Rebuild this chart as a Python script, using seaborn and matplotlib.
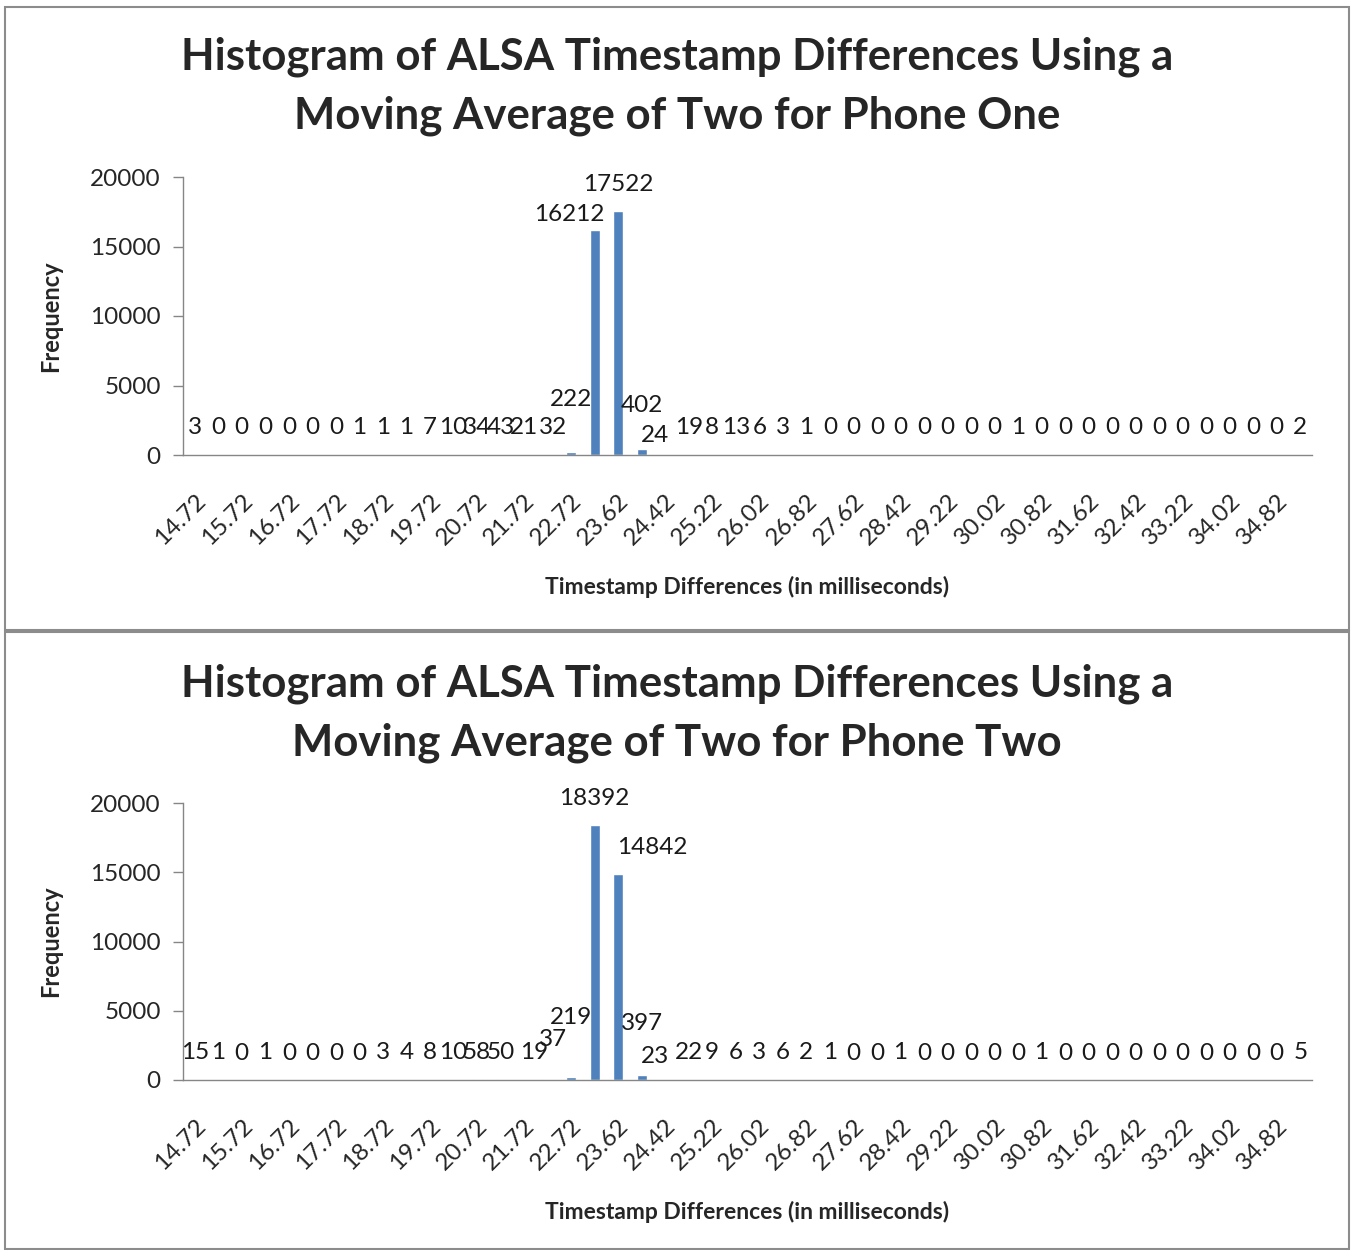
import numpy as np
import pandas as pd
import matplotlib.pyplot as plt
import seaborn as sns
from matplotlib.patches import Rectangle

# bins (48 categories), only every other one is labelled on the axis
n_bins = 48
tick_labels = ['14.72', '15.72', '16.72', '17.72', '18.72', '19.72', '20.72',
               '21.72', '22.72', '23.62', '24.42', '25.22', '26.02', '26.82',
               '27.62', '28.42', '29.22', '30.02', '30.82', '31.62', '32.42',
               '33.22', '34.02', '34.82']

phone_one = [3, 0, 0, 0, 0, 0, 0, 1, 1, 1,
             7, 10, 34, 43, 21, 32, 222, 16212, 17522, 402,
             24, 19, 8, 13, 6, 3, 1, 0, 0, 0,
             0, 0, 0, 0, 0, 1, 0, 0, 0, 0,
             0, 0, 0, 0, 0, 0, 0, 2]

phone_two = [15, 1, 0, 1, 0, 0, 0, 0, 3, 4,
             8, 10, 58, 50, 19, 37, 219, 18392, 14842, 397,
             23, 22, 9, 6, 3, 6, 2, 1, 0, 0,
             1, 0, 0, 0, 0, 0, 1, 0, 0, 0,
             0, 0, 0, 0, 0, 0, 0, 5]

titles = ['Histogram of ALSA Timestamp Differences Using a\nMoving Average of Two for Phone One',
          'Histogram of ALSA Timestamp Differences Using a\nMoving Average of Two for Phone Two']

# hand-moved data labels (pixel nudges, as in the original sheet)
nudge_one = {15: (5, 0), 16: (0, 25), 17: (-25, -12), 19: (0, 17), 20: (-10, -8)}
nudge_two = {14: (10, 0), 15: (5, 13), 16: (0, 32), 18: (34, 0), 19: (0, 24), 20: (-10, -4)}

sns.set_style('white')
plt.rcParams['font.family'] = ['Lato', 'DejaVu Sans']

BLUE = '#4F81BD'
GRAY = '#868686'
W, H = 1351, 1250
FS = 17.5

fig = plt.figure(figsize=(W / 100, H / 100), dpi=100)

# panel frames
for y0, y1 in [(7, 630), (632, 1249)]:
    fig.patches.append(Rectangle((5 / W, 1 - y1 / H), 1344 / W, (y1 - y0) / H,
                                 transform=fig.transFigure, fill=False,
                                 edgecolor='#8c8c8c', lw=1.5))


def draw(ax, counts, nudges):
    df = pd.DataFrame({'bin': np.arange(n_bins), 'count': counts})
    sns.barplot(data=df, x='bin', y='count', ax=ax, color=BLUE,
                saturation=1, width=0.42, errorbar=None)
    ax.set_xlim(-0.5, n_bins - 0.5)
    ax.set_ylim(0, 20000)
    ax.set_yticks(range(0, 20001, 5000))
    ax.set_yticklabels([str(v) for v in range(0, 20001, 5000)], fontsize=FS)
    ax.set_xticks(np.arange(0, n_bins, 2))
    ax.set_xticklabels(tick_labels, rotation=45, ha='right', va='top',
                       rotation_mode='anchor', fontsize=FS)
    ax.set_xticks(np.arange(-0.5, n_bins, 1), minor=True)
    ax.tick_params(axis='x', which='major', length=0, pad=25)
    ax.tick_params(axis='x', which='minor', length=8, color=GRAY, width=1)
    ax.tick_params(axis='y', length=7, color=GRAY, width=1, left=True, pad=9)
    for s in ['top', 'right']:
        ax.spines[s].set_visible(False)
    for s in ['left', 'bottom']:
        ax.spines[s].set_color(GRAY)
        ax.spines[s].set_linewidth(1)
    ax.set_xlabel('Timestamp Differences (in milliseconds)', fontsize=16.5,
                  fontweight='bold', labelpad=20)
    ax.set_ylabel('Frequency', fontsize=17, fontweight='bold', labelpad=20)
    for i, v in enumerate(counts):
        dx, dy = nudges.get(i, (0, 0))
        ax.annotate(str(v), (i, v), xytext=(dx, 27 + dy),
                    textcoords='offset pixels', ha='center', va='center',
                    fontsize=FS, color='#1a1a1a')


ax1 = fig.add_axes([183 / W, 1 - 455 / H, 1129 / W, 278 / H])
draw(ax1, phone_one, nudge_one)
ax2 = fig.add_axes([183 / W, 1 - 1080 / H, 1129 / W, 277 / H])
draw(ax2, phone_two, nudge_two)

for ax, t, ty in [(ax1, titles[0], 86), (ax2, titles[1], 713)]:
    fig.text(677 / W, 1 - ty / H, t, ha='center', va='center', fontsize=31.5,
             fontweight='bold', linespacing=1.55)

fig.savefig('out.png', dpi=100)
